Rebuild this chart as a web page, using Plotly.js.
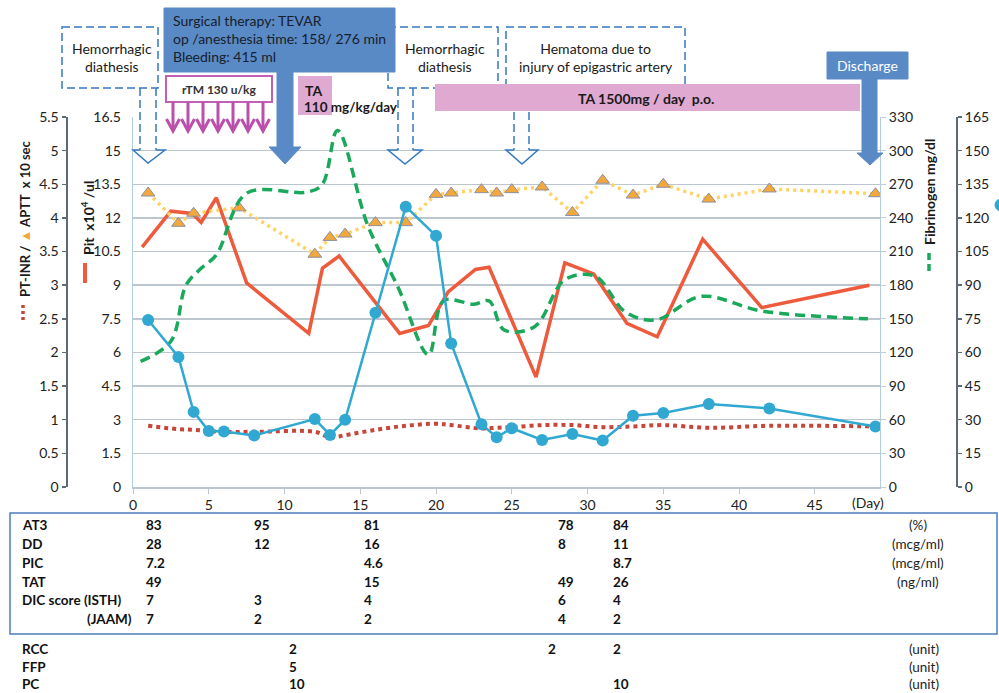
<!DOCTYPE html>
<html><head><meta charset="utf-8">
<script src="https://cdn.plot.ly/plotly-3.0.1.min.js"></script>
<style>html,body{margin:0;padding:0;background:#fff}#chart{width:999px;height:693px}</style>
</head><body><div id="chart"></div>
<script>
// ---------- data ----------
const labDays = [1,3,4,5,6,8,12,13,14,16,18,20,21,23,24,25,27,29,31,33,35,38,42,49];
const fdpValues = [74.5,58,33.5,25,24.7,23,30.3,23.2,30,77.7,125,112,64,28,22.2,26.2,21,23.6,20.7,31.8,33,37,35,27];
const ptinrValues = [0.91,0.86,0.85,0.83,0.82,0.82,0.82,0.74,0.77,0.85,0.91,0.94,0.92,0.87,0.88,0.89,0.92,0.92,0.89,0.9,0.92,0.88,0.91,0.9];
const apttDays = [1,3,4,7,12,13,14,16,18,20,21,23,24,25,27,29,31,33,35,38,42,49];
const apttValues = [4.37,3.92,4.07,4.15,3.46,3.71,3.76,3.93,3.93,4.35,4.37,4.42,4.37,4.42,4.46,4.08,4.56,4.34,4.5,4.28,4.43,4.36];
const pitDays = [0.6,2.5,3.9,4.5,5.5,7.5,11.6,12.5,13.6,17.6,19.5,20.8,22.6,23.5,26.6,28.5,30.4,32.6,34.6,37.6,41.5,48.6];
const pitValues = [10.7,12.3,12.2,11.8,12.9,9.1,6.85,9.75,10.3,6.85,7.2,8.7,9.7,9.8,4.9,10.0,9.5,7.3,6.7,11.05,8.0,9.0];
const fibDays = [0.5,2.5,3.5,4.5,5.5,7.5,11.5,12.5,13.5,15.5,17.5,19.5,20.5,22.5,23.5,24.5,26.5,28.5,30.5,32.5,34.5,37.5,41.5,48.5];
const fibValues = [112,130,180,195,207,262,263,270,318,233,178,118,166,163,166,140,143,185,188,156,149,170,157,150];

const dayTicks = [0,5,10,15,20,25,30,35,40,45];
const pitTickVals = [0,1.5,3,4.5,6,7.5,9,10.5,12,13.5,15,16.5];
const pitTickText = ['0','1.5','3','4.5','6','7.5','9','10.5','12','13.5','15','16.5'];
const inrTickVals = [0,0.5,1,1.5,2,2.5,3,3.5,4,4.5,5,5.5];
const inrTickText = ['0','0.5','1','1.5','2','2.5','3','3.5','4','4.5','5','5.5'];

const tableLabels = ['AT3','DD','PIC','TAT','DIC score (ISTH)'];
const tableUnits = ['(%)','(mcg/ml)','(mcg/ml)','(ng/ml)','',''];
const AT3 = ['83','95','81','78','84'];
const DD = ['28','12','16','8','11'];
const PIC = ['7.2','','4.6','','8.7'];
const TAT = ['49','','15','49','26'];
const ISTH = ['7','3','4','6','4'];
const JAAM = ['7','2','2','4','2'];
const transLabels = ['RCC','FFP','PC'];
const RCC = ['2','2','2'];
const FFP = ['5','',''];
const PC = ['10','','10'];

// ---------- geometry helpers ----------
const W=999,H=693,ML=10,MR=10,MT=117,MB=206;
const PW=W-ML-MR, PH=H-MT-MB;
const PX = p => (p-ML)/PW;
const PY = p => (MT+PH-p)/PH;
const FONT = 'Lato, "Open Sans", sans-serif';
const C = {blueBox:'#5a8ac6', dashBlue:'#3478c0', pink:'#e0a9d1', magenta:'#bb4fab',
  pit:'#ee5a3c', inr:'#c6473a', aptt:'#ffd264', apttMk:'#f2a83a', fib:'#1aa85a',
  fdp:'#31a8d1', axis:'#5d6b75', grid:'#bcc6ce', border:'#b3cde0', text:'#1a1a1a'};

function path(pts, close){
  return 'M' + pts.map(p => PX(p[0]).toFixed(5)+','+PY(p[1]).toFixed(5)).join('L') + (close?'Z':'');
}
const shapes = [];
const anns = [];
function rect(x0,y0,x1,y1,line,fill){
  shapes.push({type:'rect',xref:'paper',yref:'paper',x0:PX(x0),x1:PX(x1),y0:PY(y0),y1:PY(y1),
    line:line,fillcolor:fill||'rgba(0,0,0,0)'});
}
function seg(x0,y0,x1,y1,line){
  shapes.push({type:'line',xref:'paper',yref:'paper',x0:PX(x0),x1:PX(x1),y0:PY(y0),y1:PY(y1),line:line});
}
function poly(pts,line,fill,close){
  shapes.push({type:'path',xref:'paper',yref:'paper',path:path(pts,close),line:line,fillcolor:fill||'rgba(0,0,0,0)'});
}
function ann(text,x,y,o){
  anns.push(Object.assign({text:text,xref:'paper',yref:'paper',x:PX(x),y:PY(y),showarrow:false,
    xanchor:'center',yanchor:'middle',font:{family:FONT,size:14,color:C.text}},o||{}));
}
const dashLine = {color:C.dashBlue,width:1.5,dash:'8px,4px'};
function hollowArrow(xa,xb,xl,xr,xc,yTop,yHead,yApex){
  seg(xa,yTop,xa,yHead,dashLine);
  seg(xb,yTop,xb,yHead,dashLine);
  poly([[xa,yHead],[xl,yHead],[xc,yApex],[xr,yHead],[xb,yHead]],{color:C.dashBlue,width:1.5},null,false);
}
function solidArrow(xa,xb,xl,xr,xc,yTop,yHead,yApex){
  poly([[xa,yTop],[xb,yTop],[xb,yHead],[xr,yHead],[xc,yApex],[xl,yHead],[xa,yHead]],{color:C.blueBox,width:1},C.blueBox,true);
}

// dashed boxes & arrows
rect(62,27,158,88,dashLine);
ann('Hemorrhagic<br>diathesis',112,57);
hollowArrow(140,156,133,165,148,88,150,163);
rect(388,27,498,88,dashLine);
ann('Hemorrhagic<br>diathesis',445,57);
hollowArrow(398,413,388,422,405,88,150,164);
rect(506,27,685,88,dashLine);
ann('Hematoma due to<br>injury of epigastric artery',596,57);
hollowArrow(514,529,506,538,522,88,150,164);

// TEVAR
rect(164,8,395,72,{color:C.blueBox,width:1},C.blueBox);
ann('Surgical therapy: TEVAR<br>op /anesthesia time: 158/ 276 min<br>Bleeding: 415 ml',171,39,{xanchor:'left',align:'left',font:{family:FONT,size:14,color:'#15202b'}});
solidArrow(277,293,269,301,285,72,147,164);

// Discharge
rect(827,52,908,79,{color:C.blueBox,width:1},C.blueBox);
ann('Discharge',867.5,65.5,{font:{family:FONT,size:14,color:'#ffffff'}});
solidArrow(862,877,857,883,870,79,153,165);

// rTM
rect(166,76,272,102,{color:'#c460b4',width:2},'#ffffff');
ann('<b>rTM 130 u/kg</b>',219,89,{font:{family:FONT,size:12,color:'#333'}});
[173,188,203,218,233,248,263].forEach(x=>{
  seg(x,102,x,131,{color:C.magenta,width:3});
  poly([[x-6.5,119],[x,131],[x+6.5,119]],{color:C.magenta,width:3},null,false);
});

// TA boxes
rect(298,76,332,115,{color:C.pink,width:0},C.pink);
ann('<b>TA</b>',303,90,{xanchor:'left'});
ann('<b>110 mg/kg/day</b>',302,107,{xanchor:'left',font:{family:FONT,size:13.5,color:C.text}});
rect(435,84,860,111,{color:C.pink,width:0},C.pink);
ann('<b>TA 1500mg / day  p.o.</b>',646,98);

// axis titles
ann('<b>PT-INR / <span style="color:#f2a83a">▲</span> APTT  x 10 sec</b>',25,219,{textangle:-90,font:{family:FONT,size:13,color:C.text}});
seg(23,305,23,322,{color:C.inr,width:3.5,dash:'3px,3px'});
ann('<b>Pit  x10<sup>4</sup> /ul</b>',87,218,{textangle:-90,font:{family:FONT,size:14,color:C.text}});
seg(85,263,85,283,{color:C.pit,width:4});
ann('<b>Fibrinogen mg/dl</b>',929,192,{textangle:-90,font:{family:FONT,size:14,color:C.text}});
seg(929,253,929,275,{color:C.fib,width:3.5,dash:'7px,4px'});
shapes.push({type:'circle',xref:'paper',yref:'paper',x0:PX(995),x1:PX(1007),y0:PY(199),y1:PY(211),line:{color:C.fdp,width:1},fillcolor:C.fdp});

ann('(Day)',868,502,{font:{family:FONT,size:14,color:'#222'}});

// table
rect(10,513,997,634,{color:'#4a7ebb',width:1.5});
const rowY = [525,544,563,582,600,619];
const colX = [144,252,362,556,611];
const rows = [AT3,DD,PIC,TAT,ISTH,JAAM];
const tf = {family:FONT,size:13.5,color:'#111'};
tableLabels.forEach((t,i)=>ann('<b>'+t+'</b>',20,rowY[i],{xanchor:'left',font:tf}));
ann('<b>(JAAM)</b>',134,rowY[5],{xanchor:'right',font:tf});
rows.forEach((r,i)=>r.forEach((v,j)=>{ if(v) ann('<b>'+v+'</b>',colX[j],rowY[i],{xanchor:'left',font:tf}); }));
tableUnits.forEach((u,i)=>{ if(u) ann(u,918,rowY[i],{font:{family:FONT,size:13.5,color:'#222'}}); });
const tRowY = [649,667,684];
const tColX = [287,546,611];
[RCC,FFP,PC].forEach((r,i)=>{
  ann('<b>'+transLabels[i]+'</b>',20,tRowY[i],{xanchor:'left',font:tf});
  r.forEach((v,j)=>{ if(v) ann('<b>'+v+'</b>',tColX[j],tRowY[i],{xanchor:'left',font:tf}); });
  ann('(unit)',924,tRowY[i],{font:{family:FONT,size:13.5,color:'#222'}});
});

// ---------- traces ----------
const traces = [
  {x:labDays,y:ptinrValues,yaxis:'y2',mode:'lines',line:{color:C.inr,width:4,dash:'4px,4px',shape:'spline'},hoverinfo:'skip'},
  {x:fibDays,y:fibValues,yaxis:'y3',mode:'lines',line:{color:C.fib,width:3.5,dash:'10px,6px',shape:'spline',smoothing:1},hoverinfo:'skip'},
  {x:pitDays,y:pitValues,yaxis:'y',mode:'lines',line:{color:C.pit,width:3.5},hoverinfo:'skip'},
  {x:apttDays,y:apttValues,yaxis:'y2',mode:'lines+markers',line:{color:C.aptt,width:3.5,dash:'3px,4px'},
    marker:{symbol:'triangle-up',size:12,color:C.apttMk,line:{color:'#8d8fa3',width:1}},hoverinfo:'skip'},
  {x:labDays,y:fdpValues,yaxis:'y4',mode:'lines+markers',line:{color:C.fdp,width:2.5},
    marker:{symbol:'circle',size:12,color:C.fdp},hoverinfo:'skip'}
];

const tickFont = {family:FONT,size:14,color:'#222'};
const layout = {
  width:W,height:H,margin:{l:ML,r:MR,t:MT,b:MB},
  paper_bgcolor:'#ffffff',plot_bgcolor:'#ffffff',showlegend:false,
  font:{family:FONT},
  xaxis:{domain:[PX(133),PX(880)],range:[0,49.3],tickvals:dayTicks,ticks:'outside',ticklen:5,
    tickcolor:C.grid,showline:true,linecolor:C.grid,linewidth:1.5,showgrid:false,zeroline:false,tickfont:tickFont},
  yaxis:{range:[0,16.5],tickvals:pitTickVals,ticktext:pitTickText,showgrid:true,gridcolor:C.grid,gridwidth:1.5,
    zeroline:false,showline:true,mirror:true,linecolor:C.border,linewidth:1.2,ticks:'',ticklabelstandoff:8,tickfont:tickFont},
  yaxis2:{overlaying:'y',anchor:'free',position:PX(66.5),side:'left',range:[0,5.5],tickvals:inrTickVals,ticktext:inrTickText,
    showgrid:false,zeroline:false,showline:true,linecolor:C.axis,linewidth:2,ticks:'outside',ticklen:4,tickwidth:1.5,tickcolor:C.axis,tickfont:tickFont},
  yaxis3:{overlaying:'y',anchor:'x',side:'right',range:[0,330],dtick:30,showgrid:false,zeroline:false,showline:false,
    ticks:'outside',ticklen:5,tickcolor:'#c5ced5',tickfont:tickFont},
  yaxis4:{overlaying:'y',anchor:'free',position:PX(957),side:'right',range:[0,165],dtick:15,showgrid:false,zeroline:false,
    showline:true,linecolor:C.axis,linewidth:2,ticks:'outside',ticklen:4,tickwidth:1.5,tickcolor:C.axis,tickfont:tickFont},
  shapes:shapes,annotations:anns
};
Plotly.newPlot('chart',traces,layout,{displayModeBar:false,staticPlot:true});
</script></body></html>
